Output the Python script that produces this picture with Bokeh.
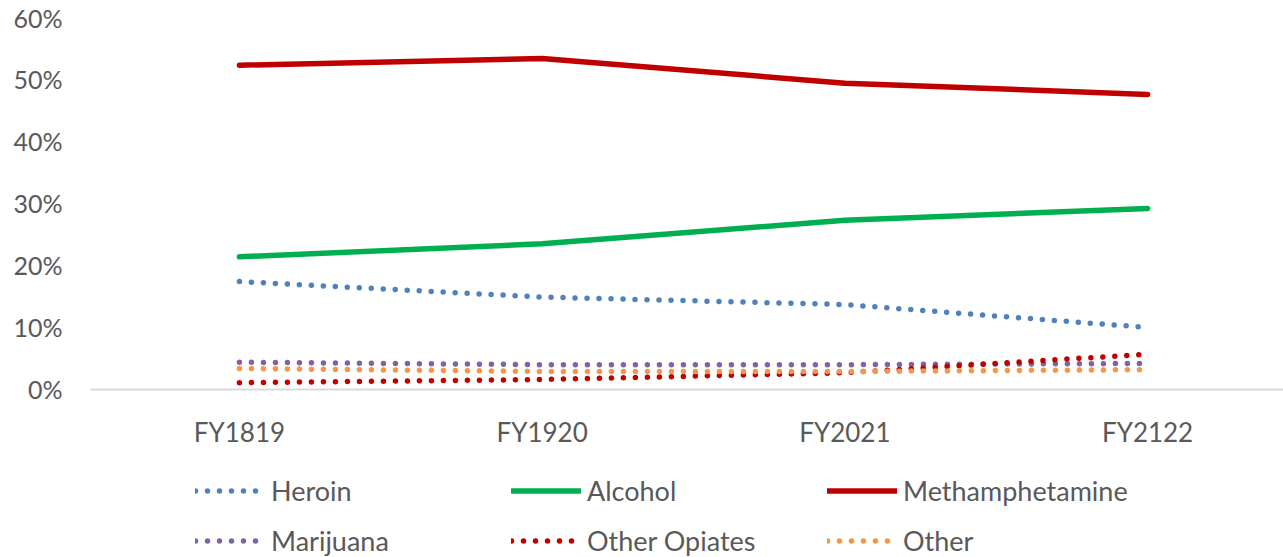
from bokeh.plotting import figure
from bokeh.models import (ColumnDataSource, Legend, LegendItem, FixedTicker,
                          NumeralTickFormatter, Range1d, Span)
from bokeh.core.properties import value
from bokeh.embed import file_html
from bokeh.resources import INLINE

years = ["FY1819", "FY1920", "FY2021", "FY2122"]
heroin = [0.174, 0.149, 0.137, 0.100]
alcohol = [0.214, 0.235, 0.273, 0.292]
meth = [0.523, 0.534, 0.494, 0.476]
marijuana = [0.044, 0.040, 0.040, 0.042]
other_opiates = [0.011, 0.016, 0.027, 0.057]
other = [0.034, 0.029, 0.029, 0.032]
y_ticks = [0, 0.1, 0.2, 0.3, 0.4, 0.5, 0.6]

FONT = "Lato"
GRAY = "#595959"

xs = list(range(len(years)))
src = ColumnDataSource(dict(x=xs, heroin=heroin, alcohol=alcohol, meth=meth,
                            marijuana=marijuana, other_opiates=other_opiates,
                            other=other))

# frame spans the full height below the top border; the area under 0 holds
# the category labels and the legend
p = figure(width=1283, height=557, output_backend="svg", toolbar_location=None,
           x_axis_location=None,
           x_range=Range1d(-0.492, 3.449), y_range=Range1d(-0.271, 0.6),
           min_border_left=90, min_border_right=0, min_border_top=17,
           min_border_bottom=0)
p.outline_line_color = None
p.xgrid.visible = False
p.ygrid.visible = False
p.background_fill_color = "white"
p.border_fill_color = "white"

# category axis line at 0
p.add_layout(Span(location=0, dimension="width", line_color="#d9d9d9",
                  line_width=2))

series = [
    ("Heroin", "heroin", "#4f81bd", "dot"),
    ("Alcohol", "alcohol", "#00b050", "solid"),
    ("Methamphetamine", "meth", "#c00000", "solid"),
    ("Marijuana", "marijuana", "#8064a2", "dot"),
    ("Other Opiates", "other_opiates", "#c00000", "dot"),
    ("Other", "other", "#f79646", "dot"),
]
renderers = {}
for name, col, color, style in series:
    if style == "solid":
        r = p.line("x", col, source=src, line_color=color, line_width=5.5,
                   line_cap="round", line_join="round")
    else:
        r = p.line("x", col, source=src, line_color=color, line_width=5.5,
                   line_dash="0 12", line_cap="round", line_join="round")
    renderers[name] = r

# category labels under the axis line
label_y = -0.069
p.text(x=xs, y=[label_y] * len(xs), text=years, text_align="center",
       text_baseline="middle", text_font=value(FONT),
       text_font_size="26px", text_color=GRAY)

p.yaxis.ticker = FixedTicker(ticks=y_ticks)
p.yaxis.formatter = NumeralTickFormatter(format="0%")
p.yaxis.axis_line_color = None
p.yaxis.major_tick_line_color = None
p.yaxis.minor_tick_line_color = None
p.yaxis.major_tick_out = 0
p.yaxis.major_label_standoff = 28
p.yaxis.major_label_text_font = FONT
p.yaxis.major_label_text_font_size = "25px"
p.yaxis.major_label_text_color = GRAY

columns = [("Heroin", "Marijuana"), ("Alcohol", "Other Opiates"),
           ("Methamphetamine", "Other")]
col_x = [105, 421, 737]
for (a, b), lx in zip(columns, col_x):
    lg = Legend(items=[LegendItem(label=a, renderers=[renderers[a]]),
                       LegendItem(label=b, renderers=[renderers[b]])],
                location=(lx, 0), orientation="vertical",
                padding=0, margin=0, spacing=17,
                glyph_width=70, glyph_height=33, label_height=33,
                label_standoff=6, border_line_color=None,
                background_fill_alpha=0,
                label_text_font=FONT, label_text_font_size="27px",
                label_text_color=GRAY)
    p.add_layout(lg, "center")

open("out.html", "w").write(file_html(p, INLINE))
